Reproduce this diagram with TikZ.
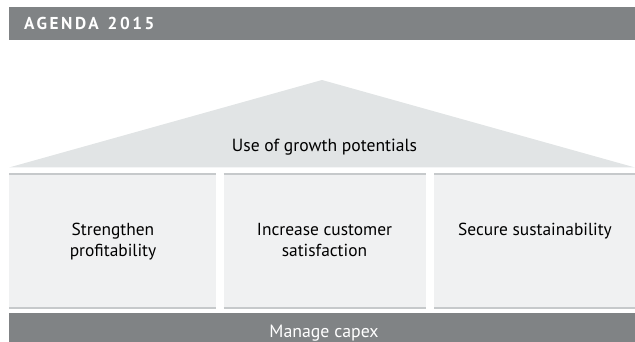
\documentclass[tikz,border=0pt]{standalone}
\usepackage{fontspec}
\setmainfont{PT Sans}
\newfontfamily\headfont[LetterSpace=15]{PT Sans}
\definecolor{bargrey}{HTML}{808385}
\definecolor{roofgrey}{HTML}{E1E4E5}
\definecolor{pillargrey}{HTML}{F0F1F2}
\definecolor{edgegrey}{HTML}{C6C9CB}
\begin{document}
\begin{tikzpicture}[x=1pt,y=1pt,
  pillartext/.style={font=\fontsize{17.4}{21}\selectfont,align=center,anchor=base,inner sep=0pt,text=black},
  edge/.style={draw=edgegrey,line width=1.8pt}]
\useasboundingbox (0,0) rectangle (635,342);
% header bar
\fill[bargrey] (9,302) rectangle (635,335);
\node[anchor=base west,inner sep=0pt,text=white,font=\headfont\bfseries\fontsize{17.2}{18}\selectfont] (title) at (24,312) {AGENDA\hspace{2pt} 2015};
% roof
\fill[roofgrey] (9,174.5) -- (322,262) -- (635,174.5) -- cycle;
\node[anchor=base,inner sep=0pt,font=\fontsize{17.6}{21}\selectfont] (roof) at (324.5,190.3) {Use of growth potentials};
% pillars
\foreach \xa/\xb in {9/215.5, 223.5/426, 434/635}{
  \fill[pillargrey] (\xa,33) rectangle (\xb,168);
  \draw[edge] (\xa,167.6) -- (\xb,167.6);
  \draw[edge] (\xa,33.6) -- (\xb,33.6);
}
\node[pillartext] (t1) at (113,85) {Strengthen\\profitability};
\node[pillartext] (t2) at (324.5,85) {Increase customer\\satisfaction};
\node[pillartext] (t3) at (535,106) {Secure sustainability};
% foundation
\fill[bargrey] (9,0) rectangle (635,28.5);
\node[anchor=base,inner sep=0pt,text=white,font=\fontsize{17.8}{21}\selectfont] (base) at (324,4.8) {Manage capex};
\end{tikzpicture}
\end{document}
